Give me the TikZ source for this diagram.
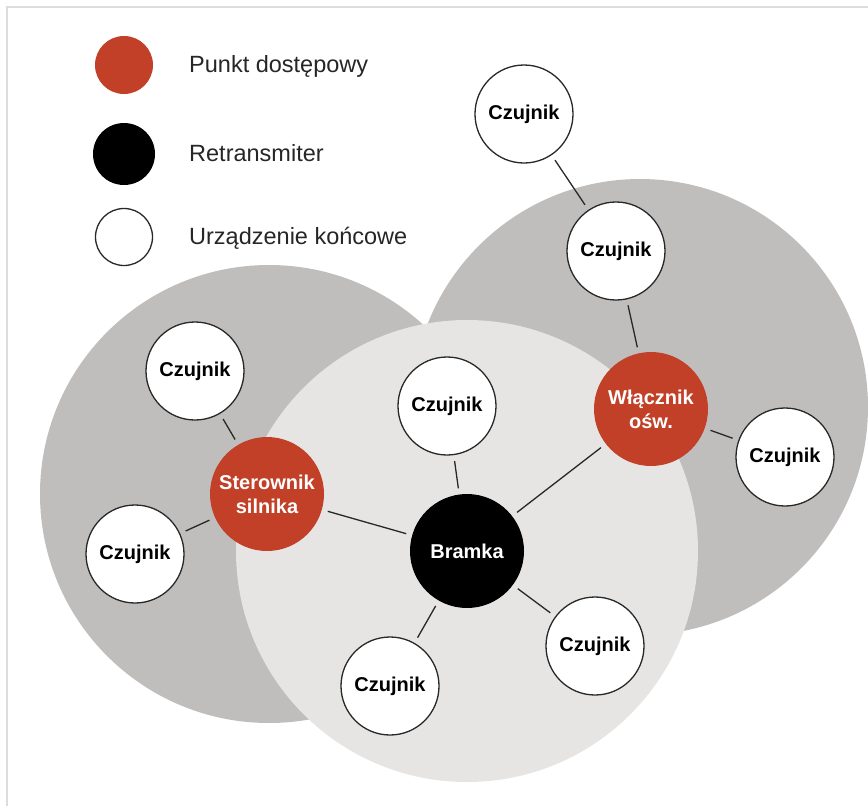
\documentclass[tikz,border=0pt]{standalone}
\usepackage{fontspec}
\setmainfont{Liberation Sans}
\definecolor{apred}{RGB}{194,64,40}
\definecolor{darkzone}{RGB}{191,190,189}
\definecolor{lightzone}{RGB}{230,229,228}
\definecolor{framec}{RGB}{220,220,220}
\definecolor{linec}{RGB}{40,40,40}
\tikzset{
  sensor/.style={circle, draw=linec, line width=1.3pt, fill=white, minimum size=98pt, inner sep=0pt,
    font=\fontsize{20}{24}\selectfont\bfseries, text=black},
  apnode/.style={circle, fill=apred, minimum size=114pt, inner sep=0pt, align=center,
    font=\fontsize{20}{24}\selectfont\bfseries, text=white},
  gwnode/.style={circle, fill=black, minimum size=114pt, inner sep=0pt,
    font=\fontsize{20}{24}\selectfont\bfseries, text=white},
  legtext/.style={anchor=west, inner sep=0pt, font=\fontsize{23.5}{28}\selectfont, text=black!85},
  link/.style={draw=linec, line width=1.3pt, shorten <=6pt, shorten >=6pt}
}
\begin{document}
\begin{tikzpicture}[x=1pt,y=-1pt]
\useasboundingbox (0,0) rectangle (868,806);
\fill[white] (0,0) rectangle (868,806);
\draw[framec, line width=1.5pt] (7,806) -- (7,7) -- (868,7);
% zones
\fill[darkzone] (269,494) circle (229);
\fill[darkzone] (640,407) circle (228);
\fill[lightzone] (467,551) circle (231);
% legend
\node[circle, fill=apred, minimum size=58pt, inner sep=0pt] (lr) at (124,65) {};
\node[circle, fill=black, minimum size=62pt, inner sep=0pt] (lb) at (124,154) {};
\node[circle, draw=linec, line width=1.3pt, fill=white, minimum size=57pt, inner sep=0pt] (lw) at (124,237) {};
\node[legtext] (tr) at (189,66) {Punkt dostępowy};
\node[legtext] (tb) at (189,153) {Retransmiter};
\node[legtext] (tw) at (189,238) {Urządzenie końcowe};
% nodes
\node[gwnode] (bramka) at (467,551) {Bramka};
\node[apnode] (ster) at (267,494) {Sterownik\\silnika};
\node[apnode] (wlacz) at (651,409) {Włącznik\\ośw.};
\node[sensor] (c1) at (524,114) {Czujnik};
\node[sensor] (c2) at (616,251) {Czujnik};
\node[sensor] (c3) at (785,457) {Czujnik};
\node[sensor] (c4) at (195,371) {Czujnik};
\node[sensor] (c5) at (135,554) {Czujnik};
\node[sensor] (c6) at (447,406) {Czujnik};
\node[sensor] (c7) at (390,686) {Czujnik};
\node[sensor] (c8) at (595,646) {Czujnik};
% links
\draw[link] (c1) -- (c2);
\draw[link] (c2) -- (wlacz);
\draw[link] (wlacz) -- (c3);
\draw[link] (wlacz) -- (bramka);
\draw[link] (c4) -- (ster);
\draw[link] (c5) -- (ster);
\draw[link] (ster) -- (bramka);
\draw[link] (c6) -- (bramka);
\draw[link] (bramka) -- (c7);
\draw[link] (bramka) -- (c8);
\end{tikzpicture}
\end{document}
